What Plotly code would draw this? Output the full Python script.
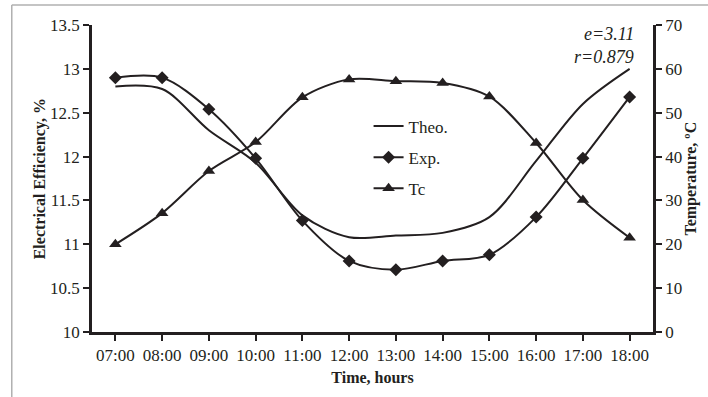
import plotly.graph_objects as go

hours = ["07:00", "08:00", "09:00", "10:00", "11:00", "12:00",
         "13:00", "14:00", "15:00", "16:00", "17:00", "18:00"]
theo = [12.80, 12.77, 12.30, 11.93, 11.33, 11.08, 11.10, 11.13, 11.31, 11.95, 12.60, 13.00]
exp_ = [12.90, 12.90, 12.54, 11.98, 11.27, 10.81, 10.71, 10.81, 10.88, 11.31, 11.98, 12.68]
tc = [20.0, 27.1, 36.7, 43.3, 53.5, 57.6, 57.2, 56.8, 53.7, 43.1, 30.1, 21.5]

INK = "#231f20"
FONT = "Liberation Serif"

fig = go.Figure()
fig.add_trace(go.Scatter(x=hours, y=theo, name="Theo.", mode="lines", legendgroup="a",
                         line=dict(color=INK, width=2, shape="spline", smoothing=0.9)))
fig.add_trace(go.Scatter(x=hours, y=exp_, name="Exp.", mode="lines+markers", legendgroup="b",
                         line=dict(color=INK, width=2, shape="spline", smoothing=0.9),
                         marker=dict(symbol="diamond", size=10, color=INK)))
fig.add_trace(go.Scatter(x=hours, y=tc, name="Tc", mode="lines+markers", yaxis="y2", legendgroup="c",
                         line=dict(color=INK, width=2, shape="spline", smoothing=0.9),
                         marker=dict(symbol="triangle-up", size=11, color=INK)))

axis_common = dict(showgrid=False, zeroline=False, showline=True, linecolor=INK,
                   linewidth=2.5, ticks="outside", tickcolor=INK, ticklen=6, tickwidth=1.5,
                   tickfont=dict(family=FONT, size=17, color=INK))

title_font = dict(family=FONT, size=16, color=INK)

fig.update_layout(
    width=708, height=397,
    margin=dict(l=92, r=55, t=25, b=65),
    paper_bgcolor="white", plot_bgcolor="white",
    font=dict(family=FONT, size=16, color=INK),
    xaxis=dict(**axis_common, type="category", range=[-0.5, 11.5],
               title=dict(text="<b>Time, hours</b>", font=title_font, standoff=8)),
    yaxis=dict(**axis_common, range=[10, 13.5], dtick=0.5),
    yaxis2=dict(**axis_common, overlaying="y", side="right", range=[0, 70], dtick=10),
    showlegend=True,
    legend=dict(x=0.493, y=0.728, xanchor="left", yanchor="top", bgcolor="rgba(0,0,0,0)",
                font=dict(family=FONT, size=17, color=INK), tracegroupgap=6),
    annotations=[
        dict(text="<b>Electrical Efficiency, %</b>", xref="paper", yref="paper",
             x=-0.093, y=0.5, xanchor="center", yanchor="middle", textangle=-90,
             showarrow=False, font=title_font),
        dict(text="<b>Temperature, ºC</b>", xref="paper", yref="paper",
             x=1.066, y=0.5, xanchor="center", yanchor="middle", textangle=-90,
             showarrow=False, font=title_font),
        dict(text="<i>e=3.11</i>", xref="paper", yref="paper", x=0.97, y=0.97,
             xanchor="right", yanchor="middle", showarrow=False,
             font=dict(family=FONT, size=18, color=INK)),
        dict(text="<i>r=0.879</i>", xref="paper", yref="paper", x=0.97, y=0.895,
             xanchor="right", yanchor="middle", showarrow=False,
             font=dict(family=FONT, size=18, color=INK)),
    ],
    shapes=[
        dict(type="line", xref="paper", yref="paper", x0=-0.143, x1=1.1, y0=1.065, y1=1.065,
             line=dict(color="#b0b0b0", width=1.5)),
        dict(type="line", xref="paper", yref="paper", x0=-0.143, x1=-0.143, y0=1.065, y1=-0.22,
             line=dict(color="#b0b0b0", width=1.5)),
    ],
)

fig.write_html("out.html", config={"displayModeBar": False},
               post_script="document.body.style.margin='0';")
